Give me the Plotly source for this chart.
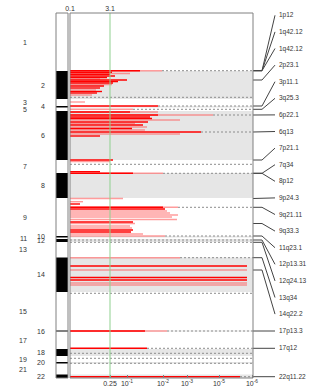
import plotly.graph_objects as go

W, H = 336, 391

# ---------------- data ----------------
chrom_names = [str(i) for i in range(1, 23)]
chrom_start = [13, 71, 99, 106, 107.5, 111, 160, 173, 198, 236, 237.5, 239,
               242, 257.5, 292, 330.5, 331.5, 349, 356, 362, 363.5, 374.5]
chrom_end = chrom_start[1:] + [378]

# association bars: genome position index, score, strength
bar_pos = [70.7, 70.7, 72.3, 73.5, 74.3, 76, 77.5, 79, 80, 81.5, 83, 84.5, 86, 88, 90,
           91.5, 93, 95,
           102, 106, 109.3,
           112, 112, 115, 115, 117, 118.5, 120, 122, 123.5, 125, 127, 128.5, 130, 132,
           134, 136,
           160, 161.5, 171.7, 173.3, 173.3,
           198.5, 201.7, 204, 207.3, 207.3, 209, 211, 213, 215, 217, 219.5, 222, 223.5,
           226, 228, 230, 232, 234, 236,
           257.7,
           266, 270, 277.5, 280, 283, 285,
           331, 331, 348.3, 376.7]
bar_score = [92, 70, 42, 60, 40, 45, 37, 30, 57, 48, 43, 42, 34, 30, 26,
             32, 27, 22,
             15, 88, 63,
             88, 60, 143, 88, 80, 82, 110, 78, 65, 73, 77, 62, 75, 131,
             110, 30,
             43, 40, 30, 93, 63,
             53, 13, 10, 108, 93, 95, 97, 100, 108, 102, 107, 63, 65,
             60, 62, 63, 61, 73, 95,
             110,
             177, 177, 177, 177, 177, 177,
             97, 75, 77, 170]
bar_kind = ["weak", "strong", "strong", "weak", "strong", "strong", "strong", "weak",
            "strong", "strong", "strong", "weak", "strong", "strong", "weak",
            "strong", "strong", "weak",
            "weak", "strong", "weak",
            "weak", "strong", "weak", "strong", "strong", "strong", "weak", "strong",
            "weak", "strong", "weak", "strong", "weak", "strong",
            "weak", "strong",
            "strong", "weak", "strong", "weak", "strong",
            "weak", "weak", "strong", "weak", "strong", "strong", "weak", "weak",
            "weak", "weak", "weak", "strong", "weak",
            "weak", "weak", "strong", "strong", "weak", "weak",
            "weak",
            "strong", "weak", "strong", "strong", "weak", "weak",
            "weak", "strong", "strong", "strong"]

# rows traced with a dotted guide to the right edge
dotted_pos = [70.7, 97.3, 106, 109.3, 115, 132, 164.3, 173.3, 207.3, 236, 240, 242.3,
              257.7, 293.3, 331, 348.3, 353.3, 358.3, 363.3, 376.7]

# annotated loci
hit_label = ["1p12", "1q42.12", "1q42.12", "2p23.1", "3p11.1", "3q25.3", "6p22.1",
             "6q13", "7p21.1", "7q34", "8p12", "9p24.3", "9q21.11", "9q33.3",
             "11q23.1", "12p13.31", "12q24.13", "13q34", "14q22.2", "17p13.3",
             "17q12", "22q11.22"]
hit_pos = [70.7, 70.7, 70.7, 80, 106, 109.3, 115, 132, 160, 173.3, 173.3, 198.5,
           207.3, 223.5, 236, 240, 242.3, 257.7, 270, 331, 348.3, 376.7]

bottom_tick_vals = [40, 57, 93, 117, 149, 182]
bottom_tick_text = ["0.25", "10<sup>-1</sup>", "10<sup>-2</sup>", "10<sup>-3</sup>",
                    "10<sup>-5</sup>", "10<sup>-6</sup>"]
top_tick_vals = [0, 40]
top_tick_text = ["0.1", "3.1"]
threshold = 40

# ---------------- layout constants (x in score units: 0 = panel left edge) ----------
X_MIN, X_MAX_FIG = -70, 266
PANEL_MAX = 183
IDEO_L, IDEO_R = -14, -2
ODD_LBL_X, EVEN_LBL_X = -41.5, -23.5
KNEE, END, TXT_X = 192, 205, 206.5
Y_TOP, Y_BOT = 13, 378
FONT = "Liberation Sans, Arial, sans-serif"
TXT = "#333333"
FRAME = "#808080"
DARK = "#ff0000"
PINK = "rgba(255,90,90,0.6)"

fig = go.Figure()


def seg_xy(kind):
    xs, ys = [], []
    for p, s, k in zip(bar_pos, bar_score, bar_kind):
        if k == kind:
            xs += [0, s, None]
            ys += [p, p, None]
    return xs, ys


# dotted guides
dx, dy = [], []
for p in dotted_pos:
    start = max([s for q, s in zip(bar_pos, bar_score) if q == p], default=0)
    dx += [start, PANEL_MAX, None]
    dy += [p, p, None]
fig.add_trace(go.Scatter(x=dx, y=dy, mode="lines",
                         line=dict(color="#8c8c8c", width=1, dash="2px,2px"),
                         hoverinfo="skip", showlegend=False))

for kind, col in (("weak", PINK), ("strong", DARK)):
    xs, ys = seg_xy(kind)
    fig.add_trace(go.Scatter(x=xs, y=ys, mode="lines",
                             line=dict(color=col, width=1.4),
                             hoverinfo="skip", showlegend=False))

# label spreading (min gap, top bound)
GAP, TOP = 16.6, 15.3
order = sorted(range(len(hit_pos)), key=lambda i: hit_pos[i])
lab = [hit_pos[i] for i in order]
for j in range(len(lab) - 2, -1, -1):
    lab[j] = min(lab[j], lab[j + 1] - GAP)
for j in range(len(lab)):
    lo = TOP if j == 0 else lab[j - 1] + GAP
    lab[j] = max(lab[j], lo)

cx, cy = [], []
for j, i in enumerate(order):
    cx += [PANEL_MAX, KNEE, END, None]
    cy += [hit_pos[i], hit_pos[i], lab[j], None]
    fig.add_annotation(x=TXT_X, y=lab[j], xref="x", yref="y", text=hit_label[i],
                       showarrow=False, xanchor="left", yanchor="middle",
                       font=dict(size=6.5, color=TXT, family=FONT))
fig.add_trace(go.Scatter(x=cx, y=cy, mode="lines",
                         line=dict(color="#444444", width=1),
                         hoverinfo="skip", showlegend=False))

# top axis placeholder trace
fig.add_trace(go.Scatter(x=[0], y=[Y_TOP], mode="markers", xaxis="x2", yaxis="y",
                         marker=dict(opacity=0), hoverinfo="skip", showlegend=False))

shapes = []
for n, (a, b) in enumerate(zip(chrom_start, chrom_end)):
    if (n + 1) % 2 == 0:
        shapes.append(dict(type="rect", xref="x", yref="y", x0=0, x1=PANEL_MAX,
                           y0=a, y1=b, fillcolor="#e6e6e6", line=dict(width=0),
                           layer="below"))
        shapes.append(dict(type="rect", xref="x", yref="y", x0=IDEO_L, x1=IDEO_R,
                           y0=a, y1=b, fillcolor="#000000", line=dict(width=0)))
    mid = (a + b) / 2
    xl = ODD_LBL_X if (n + 1) % 2 == 1 else EVEN_LBL_X
    fig.add_annotation(x=xl, y=mid, xref="x", yref="y", text=chrom_names[n],
                       showarrow=False, xanchor="right", yanchor="middle",
                       font=dict(size=7, color=TXT, family=FONT))

shapes.append(dict(type="line", xref="x", yref="y domain", x0=threshold, x1=threshold,
                   y0=0, y1=1, line=dict(color="#8fd08f", width=1)))
shapes.append(dict(type="rect", xref="x", yref="y domain", x0=0, x1=PANEL_MAX,
                   y0=0, y1=1, line=dict(color=FRAME, width=1)))
shapes.append(dict(type="rect", xref="x", yref="y domain", x0=IDEO_L, x1=IDEO_R,
                   y0=0, y1=1, line=dict(color=FRAME, width=1)))

ydom = [(H - Y_BOT) / H, (H - Y_TOP) / H]
fig.update_layout(
    width=W, height=H, margin=dict(l=0, r=0, t=0, b=0),
    paper_bgcolor="white", plot_bgcolor="rgba(0,0,0,0)",
    font=dict(family=FONT, color=TXT, size=7),
    shapes=shapes,
    xaxis=dict(domain=[0, 1], range=[X_MIN, X_MAX_FIG], anchor="y",
               tickvals=bottom_tick_vals, ticktext=bottom_tick_text,
               ticks="inside", ticklen=3, tickcolor=FRAME, tickfont=dict(size=7),
               showgrid=False, zeroline=False, showline=False),
    xaxis2=dict(overlaying="x", side="top", range=[X_MIN, X_MAX_FIG], anchor="y",
                tickvals=top_tick_vals, ticktext=top_tick_text, ticks="",
                tickfont=dict(size=7), showgrid=False, zeroline=False, showline=False),
    yaxis=dict(domain=ydom, range=[Y_BOT, Y_TOP], visible=False),
)

fig.write_html("out.html")
